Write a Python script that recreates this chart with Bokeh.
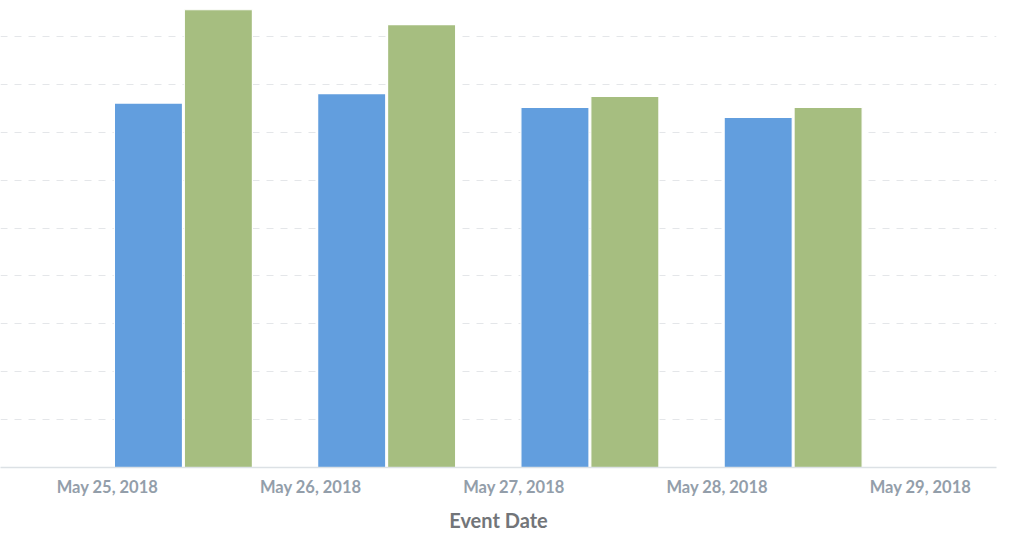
from bokeh.plotting import figure
from bokeh.models import ColumnDataSource, FixedTicker, Range1d
from bokeh.transform import dodge
from bokeh.embed import file_html
from bokeh.resources import INLINE

# Data
tick_labels = ["May 25, 2018", "May 26, 2018", "May 27, 2018", "May 28, 2018", "May 29, 2018"]
day_index = [0, 1, 2, 3]
series_a = [761, 781, 752, 731]   # blue
series_b = [956, 925, 775, 752]   # green
grid_values = [100, 200, 300, 400, 500, 600, 700, 800, 900]

src = ColumnDataSource(dict(day=day_index, a=series_a, b=series_b))

p = figure(frame_width=996, frame_height=458,
           min_border_left=0, min_border_top=9, min_border_right=20, min_border_bottom=10,
           x_range=Range1d(-0.5264, 4.374), y_range=Range1d(0, 956.5),
           output_backend="svg", toolbar_location=None)

p.vbar(x=dodge("day", 0.2015, range=p.x_range), top="a", width=0.335, source=src,
       fill_color="#629EDE", line_color="white", line_width=1.2)
p.vbar(x=dodge("day", 0.5455, range=p.x_range), top="b", width=0.335, source=src,
       fill_color="#A6BE80", line_color="white", line_width=1.2)

p.outline_line_color = None
p.background_fill_color = "white"
p.border_fill_color = "white"

p.xgrid.grid_line_color = None
p.ygrid.ticker = FixedTicker(ticks=grid_values)
p.ygrid.grid_line_color = "#E4E6E9"
p.ygrid.grid_line_dash = "7 7"
p.ygrid.grid_line_width = 1

p.yaxis.visible = False

xa = p.xaxis[0]
xa.ticker = FixedTicker(ticks=list(range(len(tick_labels))))
xa.major_label_overrides = {i: t for i, t in enumerate(tick_labels)}
xa.axis_line_color = "#DCE1E5"
xa.axis_line_width = 1.5
xa.major_tick_line_color = None
xa.minor_tick_line_color = None
xa.major_label_text_font = "Lato"
xa.major_label_text_font_style = "bold"
xa.major_label_text_font_size = "16.5px"
xa.major_label_text_color = "#939EAA"
xa.major_label_standoff = 3
xa.axis_label = "Event Date"
xa.axis_label_text_font = "Lato"
xa.axis_label_text_font_style = "bold"
xa.axis_label_text_font_size = "20px"
xa.axis_label_text_color = "#727579"
xa.axis_label_standoff = 8

open("out.html", "w").write(file_html(p, INLINE))
